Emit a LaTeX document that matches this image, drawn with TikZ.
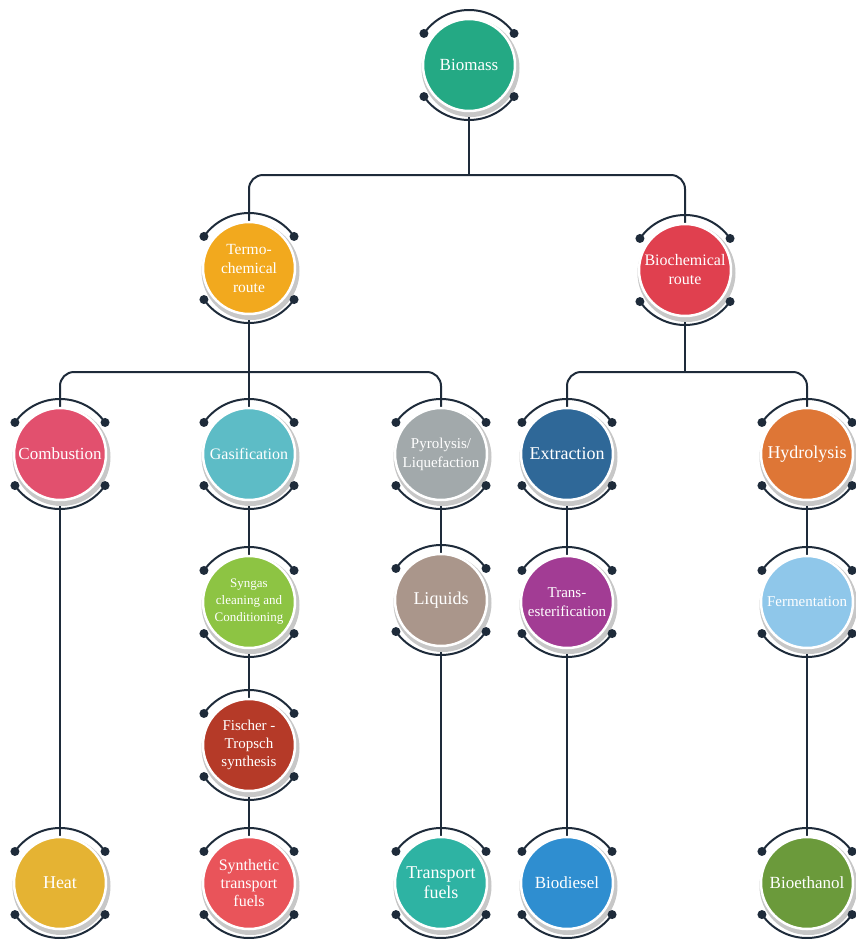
\documentclass[tikz,border=0pt]{standalone}
\usepackage{fontspec}
\setmainfont{Liberation Serif}
\usetikzlibrary{backgrounds}

\definecolor{ringc}{HTML}{1E2B3A}
\definecolor{cBiomass}{HTML}{24A984}
\definecolor{cTermo}{HTML}{F2A91E}
\definecolor{cBiochem}{HTML}{E0404F}
\definecolor{cCombust}{HTML}{E2506E}
\definecolor{cGasif}{HTML}{5DBCC6}
\definecolor{cPyro}{HTML}{A2A9AB}
\definecolor{cExtract}{HTML}{2F6898}
\definecolor{cHydro}{HTML}{DE7636}
\definecolor{cSyngas}{HTML}{8DC443}
\definecolor{cLiquids}{HTML}{AA968B}
\definecolor{cTrans}{HTML}{A23C94}
\definecolor{cFerment}{HTML}{8FC7EA}
\definecolor{cFischer}{HTML}{B53A28}
\definecolor{cHeat}{HTML}{E5B333}
\definecolor{cSynth}{HTML}{E9545A}
\definecolor{cTransp}{HTML}{2EB3A3}
\definecolor{cBiodiesel}{HTML}{2F8ED0}
\definecolor{cBioethanol}{HTML}{6B9A3B}

\tikzset{
  stage/.style={circle, minimum size=92pt, inner sep=0pt, draw=white, line width=2.5pt,
    text=white, align=center, font=\fontsize{17}{19}\selectfont},
  ringarc/.style={draw=ringc, line width=2pt},
  link/.style={draw=ringc, line width=2pt, rounded corners=14pt},
}

% one stage: shadow, two arcs with end dots, coloured disc
\newcommand{\stagenode}[6][]{%
  \fill[black!22] (#3+1.5,#4+3) circle (49);
  \draw[ringarc] (#3,#4) ++(215:55) arc (215:325:55);
  \draw[ringarc] (#3,#4) ++(35:55) arc (35:145:55);
  \foreach \a in {35,145,215,325}
    \fill[ringc] (#3,#4) ++(\a:55) circle (4.5);
  \node[stage, fill=#5, #1] (#2) at (#3,#4) {#6};
}

\begin{document}
\begin{tikzpicture}[x=1pt,y=1pt,yscale=-1,xscale=1]
    \useasboundingbox (0,0) rectangle (856,946);

    % level 0
    \stagenode{biomass}{469}{65}{cBiomass}{Biomass}
    % level 1
    \stagenode[font=\fontsize{15.5}{19}\selectfont]{termo}{249}{268}{cTermo}{Termo-\\chemical\\route}
    \stagenode[font=\fontsize{16}{19}\selectfont]{biochem}{685}{270}{cBiochem}{Biochemical\\route}
    % level 2
    \stagenode{combustion}{60}{454}{cCombust}{Combustion}
    \stagenode[font=\fontsize{16}{18}\selectfont]{gasification}{249}{454}{cGasif}{Gasification}
    \stagenode[font=\fontsize{15}{19}\selectfont]{pyrolysis}{441}{454}{cPyro}{Pyrolysis/\\Liquefaction}
    \stagenode[font=\fontsize{18}{20}\selectfont]{extraction}{567}{454}{cExtract}{Extraction}
    \stagenode[font=\fontsize{18}{20}\selectfont]{hydrolysis}{807}{454}{cHydro}{Hydrolysis}
    % level 3
    \stagenode[font=\fontsize{13}{17}\selectfont]{syngas}{249}{602}{cSyngas}{Syngas\\cleaning and\\Conditioning}
    \stagenode[font=\fontsize{18}{20}\selectfont]{liquids}{441}{600}{cLiquids}{Liquids}
    \stagenode[font=\fontsize{15}{19}\selectfont]{trans}{567}{602}{cTrans}{Trans-\\esterification}
    \stagenode[font=\fontsize{15}{18}\selectfont]{fermentation}{807}{602}{cFerment}{Fermentation}
    % level 4
    \stagenode[font=\fontsize{15}{18}\selectfont]{fischer}{249}{745}{cFischer}{Fischer -\\Tropsch\\synthesis}
    % products
    \stagenode[font=\fontsize{18}{20}\selectfont]{heat}{60}{883}{cHeat}{Heat}
    \stagenode[font=\fontsize{16}{18}\selectfont]{synthetic}{249}{883}{cSynth}{Synthetic\\transport\\fuels}
    \stagenode[font=\fontsize{18}{20}\selectfont]{transport}{441}{883}{cTransp}{Transport\\fuels}
    \stagenode{biodiesel}{567}{883}{cBiodiesel}{Biodiesel}
    \stagenode{bioethanol}{807}{883}{cBioethanol}{Bioethanol}

    % connectors
    \begin{scope}[on background layer]
      \draw[link] (biomass.south) -- (biomass.south |- 0,175);
      \draw[link] (termo.north) -- (termo.north |- 0,175) -- (biochem.north |- 0,175) -- (biochem.north);
      \draw[link] (termo.south) -- (gasification.north);
      \draw[link] (combustion.north) -- (combustion.north |- 0,372) -- (pyrolysis.north |- 0,372) -- (pyrolysis.north);
      \draw[link] (biochem.south) -- (biochem.south |- 0,372);
      \draw[link] (extraction.north) -- (extraction.north |- 0,372) -- (hydrolysis.north |- 0,372) -- (hydrolysis.north);
      \draw[link] (combustion) -- (heat);
      \draw[link] (gasification) -- (syngas) -- (fischer) -- (synthetic);
      \draw[link] (pyrolysis) -- (liquids) -- (transport);
      \draw[link] (extraction) -- (trans) -- (biodiesel);
      \draw[link] (hydrolysis) -- (fermentation) -- (bioethanol);
    \end{scope}
\end{tikzpicture}
\end{document}
